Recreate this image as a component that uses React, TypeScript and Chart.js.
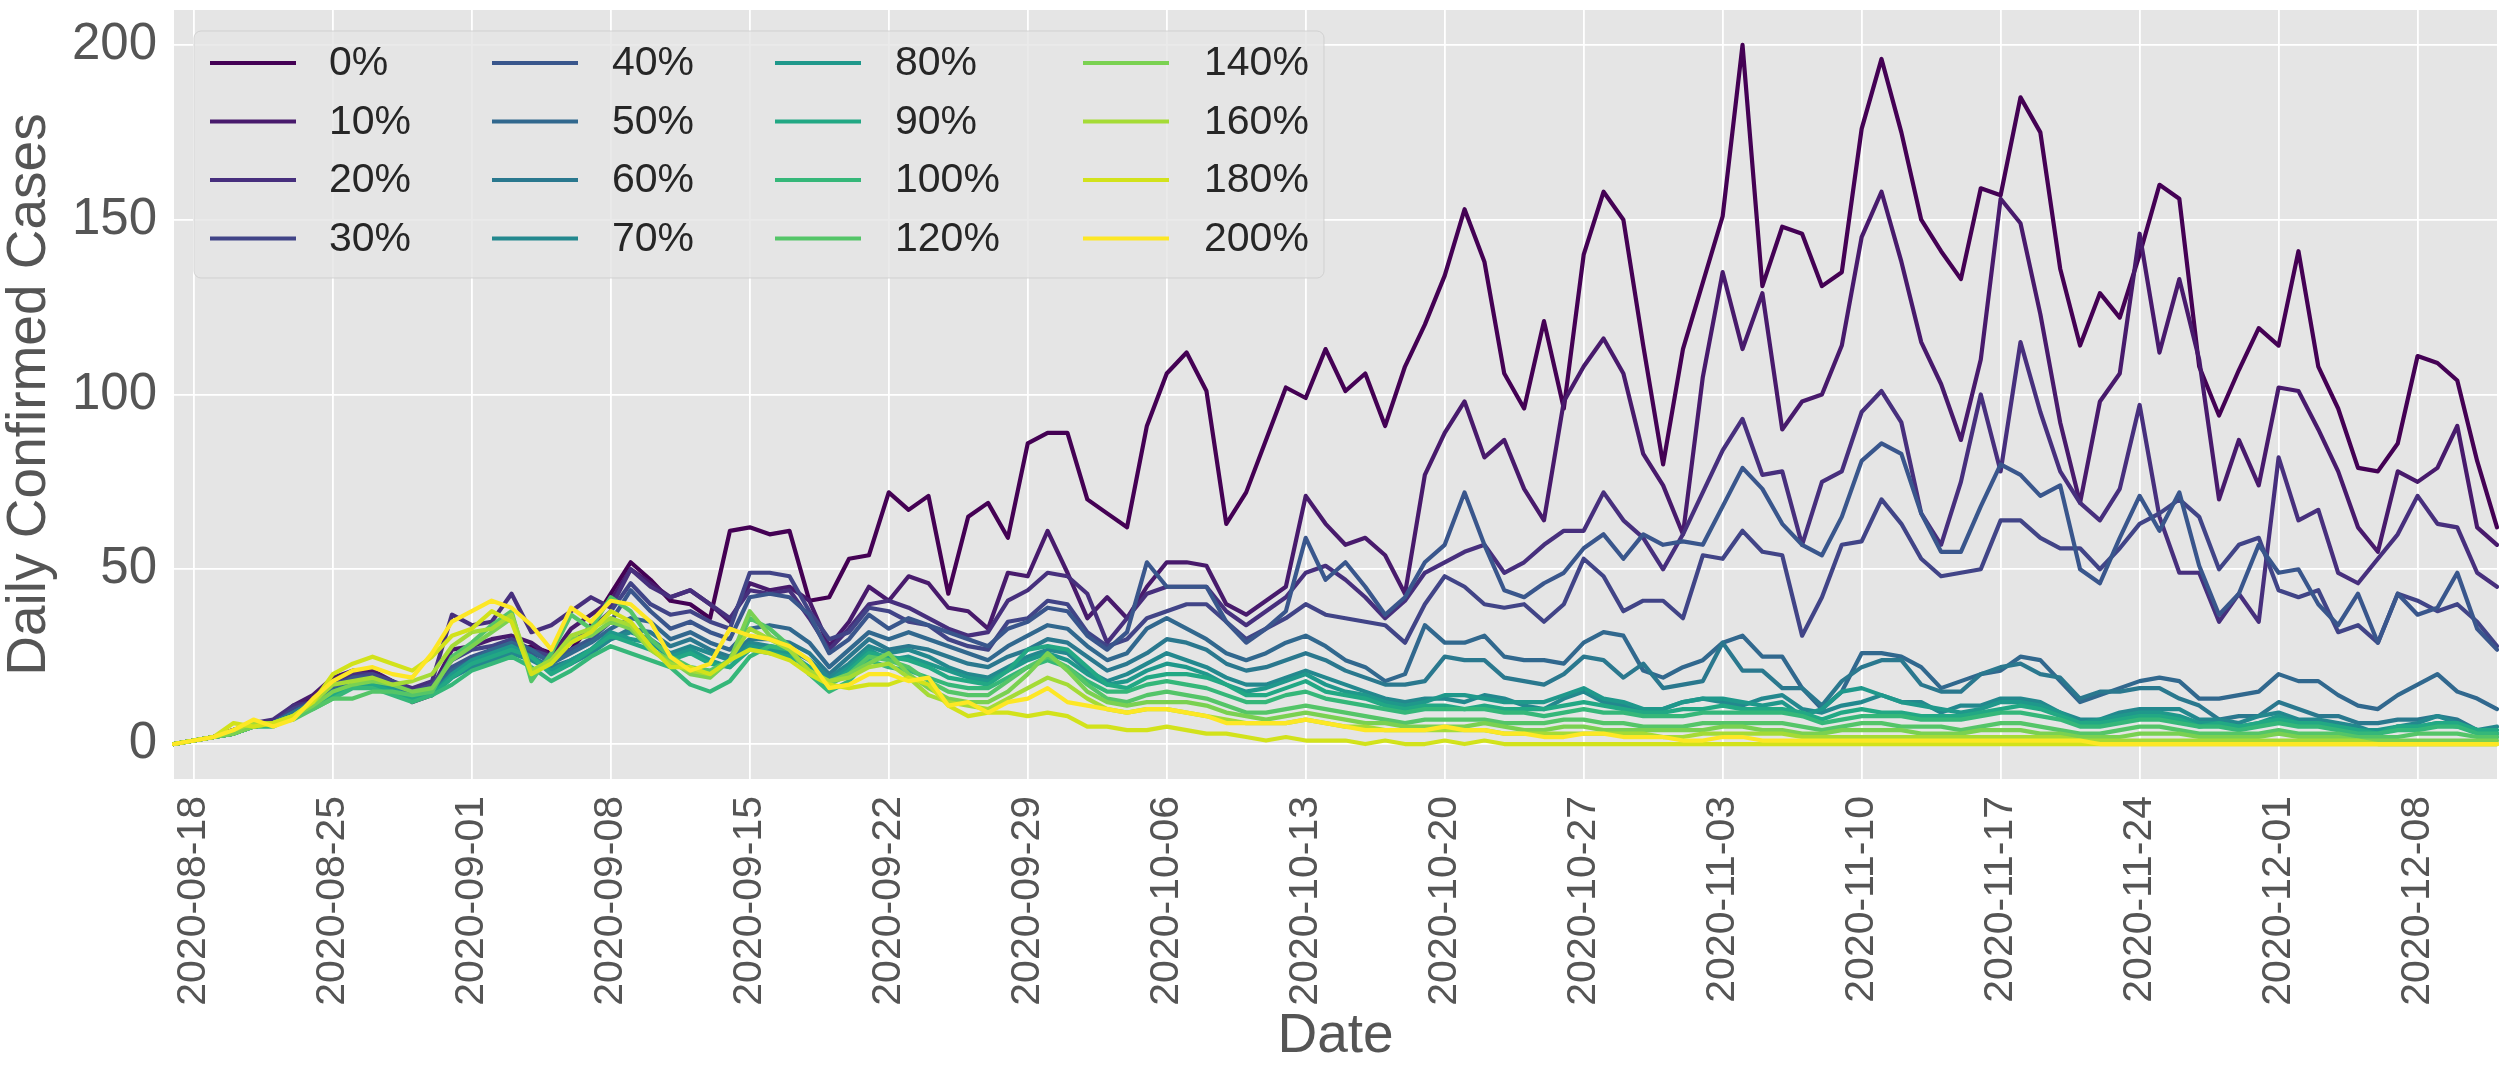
import React, { useEffect, useRef } from "react";
import { Chart, registerables } from "chart.js";

Chart.register(...registerables);

const FONT = "'Liberation Sans', Arial, sans-serif";

// categories: consecutive days 2020-08-17 .. 2020-12-12
const START_DAY = "2020-08-17";
const N_DAYS = 118;
const DATES: string[] = [];
for (let i = 0; i < N_DAYS; i++) {
  const d = new Date(Date.parse(START_DAY + "T00:00:00Z") + i * 86400000);
  DATES.push(d.toISOString().slice(0, 10));
}
const Y_TICKS = [0, 50, 100, 150, 200];

const NAMES = ["0%", "10%", "20%", "30%", "40%", "50%", "60%", "70%", "80%", "90%", "100%", "120%", "140%", "160%", "180%", "200%"];
const COLORS = ["#440154", "#481a6c", "#472f7d", "#414487", "#39568c", "#31688e", "#2a788e", "#23888e", "#1f988b", "#22a884", "#35b779", "#54c568", "#7ad151", "#a5db36", "#d2e21b", "#fde725"];

const S0 = [0,1,2,4,5,6,10,13,18,20,20,17,12,14,20, 24,24,26,28,26,27,34, 43,52,47,41,40,36,61,62,60,61,41,42,53,54, 72,67,71,43,65,69,59,86,89,89,70,66,62,91, 106,112,101,63,72,87,102,99,113,101,106,91,108,120, 134,153,138,106,96,121,96,140,158,150,114,80,113,132,151,200,131,148,146,131,135,176,196,175,150,141,133, 159,157,185,175,136,114,129,122,140,160,156,108,94,107,119,114,141,108,96,79,78,86,111,109,104,81,62];
const S10 = [0,1,2,4,6,6,11,14,19,21,21,18,14,16,27, 28,30,31,29,25,33,37, 41,50,46,42,44,40,35,46,44,45,41,28,35,45, 41,48,46,39,38,33,49,48,61,49,36,42,36,45, 52,52,51,40,37,41,45,71,63,57,59,54,43,77, 89,98,82,87,73,64,98,108,116,106,83,74,60,105,135,113,129,90,98,100,114,145,158,138,115,103,87, 110,156,149,123,92,69,98,106,146,112,133,110,70,87,74,102,101,90,78,62,55,78,75,79,91,62,57];
const S20 = [0,1,2,4,6,7,11,12,17,20,20,18,16,18,37, 34,35,43,32,34,38,42, 39,50,45,42,44,40,36,44,43,44,36,27,33,40, 41,39,36,33,31,32,41,44,49,48,43,29,36,43, 45,45,45,38,34,38,42,49,51,47,42,36,41,49, 52,55,57,49,52,57,61,61,72,64,59,50,60,72,84,93,77,78,57,75,78,95,101,92,66,57,75, 100,78,115,95,78,69,64,73,97,65,49,49,35,43,35,82,64,67,49,46,53,60,71,63,62,49,45];
const S30 = [0,1,2,4,5,6,10,12,17,19,20,18,15,17,24, 27,28,30,27,25,29,33, 38,46,40,37,38,35,33,49,49,48,38,30,32,39, 38,35,34,30,28,27,35,36,41,40,32,28,30,36, 38,40,40,35,30,33,36,40,37,36,35,34,29,40, 48,45,40,39,40,35,40,53,48,38,41,41,36,54,53,61,55,54,31,42,57,58,70,63,53,48,49, 50,64,64,59,56,56,50,56,63,66,70,65,50,57,59,44,42,44,32,34,29,43,41,38,40,35,28];
const S40 = [0,1,2,3,5,6,9,12,16,19,19,17,15,16,22, 25,27,28,26,24,27,30, 35,44,38,33,35,32,30,42,43,42,37,26,30,37, 33,36,34,32,30,28,33,35,39,38,31,27,32,52, 45,45,45,35,29,33,38,59,47,52,45,37,42,52, 57,72,57,44,42,46,49,56,60,53,60,57,58,57,68,79,73,63,57,54,65,81,86,83,66,55,55, 68,80,77,71,74,50,46,59,71,61,72,51,37,43,57,49,50,40,34,43,29,43,37,39,49,33,27];
const S50 = [0,1,2,3,5,6,9,12,16,18,18,16,14,15,21, 24,27,29,27,23,26,29, 33,36,35,30,32,29,27,33,34,33,29,22,27,32, 30,32,30,28,26,24,28,31,34,33,28,24,26,33, 36,33,30,26,24,26,29,31,28,24,22,18,20,34, 29,29,31,25,24,24,23,29,32,31,21,19,22,24,29,31,25,25,16,10,15,26,26,25,22,16,18, 20,21,25,24,18,12,14,16,18,19,18,13,13,14,15,20,18,18,14,11,10,14,17,20,15,13,10];
const S60 = [0,1,2,3,5,6,9,12,15,17,17,16,14,15,20, 23,25,27,25,22,24,27, 30,33,32,28,30,27,25,30,30,29,26,20,25,30, 27,28,27,25,23,22,25,27,30,29,25,21,23,26, 30,29,27,23,21,22,24,26,24,21,19,17,17,18, 25,24,24,19,18,17,20,25,24,19,23,16,17,18,29,21,21,16,16,11,18,22,24,24,17,15,15, 20,22,23,20,19,13,15,15,16,16,13,11,7,8,8,12,10,8,8,6,6,7,7,8,7,4,2];
const S70 = [0,1,2,3,5,6,8,11,15,17,17,15,13,14,19, 22,24,26,24,21,23,26, 30,32,30,26,28,26,24,29,28,27,24,19,23,28, 26,27,25,22,20,19,22,25,27,26,21,18,20,23, 26,24,22,19,17,17,19,21,19,17,15,13,12,13, 13,12,14,13,11,10,13,15,12,11,9,10,12,13,12,11,13,14,10,9,11,12,14,12,12,9,11, 11,13,13,12,9,7,7,9,10,10,10,7,7,6,8,9,7,7,6,5,3,5,6,8,6,4,5];
const S80 = [0,1,2,3,5,6,8,11,15,17,18,16,13,14,20, 24,26,28,25,21,24,27, 32,30,29,25,27,24,22,28,27,26,22,18,22,27, 24,25,23,21,19,18,21,24,26,24,20,17,18,21, 23,22,20,17,15,16,18,20,17,15,14,12,11,12, 14,14,13,12,12,12,14,16,13,12,10,10,12,13,13,12,11,12,8,10,15,16,14,12,11,10,9, 10,12,12,11,9,6,7,8,9,9,8,6,6,5,6,8,6,6,5,4,4,5,5,6,5,4,3];
const S90 = [0,1,2,3,5,6,8,11,14,17,17,15,13,14,19, 23,25,27,25,20,23,27, 31,29,27,24,26,23,22,27,26,25,22,17,21,26, 25,24,22,19,18,17,21,27,28,27,22,17,16,19, 20,20,19,17,14,14,16,18,15,14,13,11,10,11, 11,10,11,10,10,10,11,12,11,10,9,9,10,10,11,10,10,10,9,7,9,10,9,9,8,8,8, 9,10,11,10,8,6,6,7,8,8,7,5,6,5,6,7,6,6,5,4,3,5,5,6,6,4,4];
const S100 = [0,1,2,3,5,5,8,10,13,16,16,14,12,14,17, 21,23,25,22,18,21,25, 28,26,24,22,17,15,18,25,28,27,20,15,18,24, 22,21,19,17,16,16,19,22,24,22,18,15,15,17, 18,17,16,14,12,12,14,15,13,12,11,10,9,10, 10,10,10,9,9,8,9,10,9,9,8,8,8,9,9,9,9,9,8,6,7,8,8,8,7,7,7, 8,9,9,8,7,5,5,6,7,7,6,5,5,4,5,6,5,5,4,3,3,4,4,5,5,3,3];
const S120 = [0,1,2,3,5,6,7,10,13,13,15,15,14,15,25, 29,34,38,18,26,37,33, 42,38,30,25,22,21,24,36,33,28,20,17,20,25, 24,22,18,15,14,14,18,22,25,22,17,13,12,14, 15,14,13,11,9,9,10,11,10,9,8,7,6,7, 7,7,7,6,6,6,7,7,6,6,5,5,5,6,6,6,6,6,5,4,5,6,6,5,5,5,4, 5,6,6,5,4,3,3,4,5,5,4,3,3,3,3,4,3,3,3,2,2,2,3,3,3,2,2];
const S140 = [0,1,2,3,5,6,8,11,15,17,18,17,15,16,24, 28,32,36,20,24,30,31, 35,33,27,24,20,19,24,38,31,27,20,18,20,23, 26,20,16,13,12,12,15,20,26,21,15,12,11,12, 12,12,11,9,8,7,8,9,8,7,6,6,5,5, 5,5,6,5,4,4,5,5,4,4,4,4,4,4,5,5,4,4,3,3,4,4,4,4,3,3,3, 4,4,4,3,3,2,2,2,3,3,3,2,2,2,2,3,2,2,2,1,1,1,1,1,1,1,1];
const S160 = [0,1,2,4,6,6,8,12,17,18,19,17,18,20,28, 32,33,37,21,24,31,33, 36,34,27,23,21,20,24,33,30,27,21,18,19,22, 23,19,14,12,11,10,13,16,19,17,13,10,9,10, 10,9,8,7,6,6,6,7,6,5,5,4,4,4, 4,4,4,3,3,3,3,3,3,3,3,2,2,3,3,3,3,3,2,2,2,2,2,2,2,2,2, 2,2,2,2,2,1,1,1,1,1,1,1,1,1,1,1,1,1,1,1,0,0,0,0,0,0,0];
const S180 = [0,1,2,6,5,6,8,12,20,23,25,23,21,25,31, 33,38,35,20,23,29,32, 38,35,28,22,22,20,24,27,26,24,20,17,16,17, 17,19,17,11,8,9,9,8,9,8,5,5,4,4, 5,4,3,3,2,1,2,1,1,1,0,1,0,0, 1,0,1,0,0,0,0,0,0,0,0,0,0,0,0,0,0,0,0,0,0,0,0,0,0,0,0, 0,0,0,0,0,0,0,0,0,0,0,0,0,0,0,0,0,0,0,0,0,0,0,0,0,0,0];
const S200 = [0,1,2,4,7,5,7,13,18,21,22,20,19,26,35, 38,41,39,34,27,39,35, 41,40,35,25,21,23,33,31,30,28,24,16,17,20, 20,18,19,11,12,9,12,13,16,12,11,10,9,10, 10,9,8,6,6,6,6,7,6,5,4,4,4,4, 5,4,4,3,3,2,2,3,3,2,2,2,1,1,2,2,1,1,1,1,1,1,1,1,1,1,1, 1,1,1,1,1,1,0,0,0,0,0,0,0,0,0,0,0,0,0,0,0,0,0,0,0,0,0];

const SERIES = [S0, S10, S20, S30, S40, S50, S60, S70, S80, S90, S100, S120, S140, S160, S180, S200];

const isWeekly = (i: number) => i >= 1 && (i - 1) % 7 === 0;

const bgPlugin = {
  id: "bgPlugin",
  beforeDraw(chart: any) {
    const { ctx, chartArea: a, width, height } = chart;
    ctx.save();
    ctx.fillStyle = "#ffffff";
    ctx.fillRect(0, 0, width, height);
    ctx.fillStyle = "#E5E5E5";
    ctx.fillRect(a.left, a.top, a.right - a.left, a.bottom - a.top);
    ctx.restore();
  },
};

const legendPlugin = {
  id: "mplLegend",
  afterDatasetsDraw(chart: any) {
    const { ctx } = chart;
    const box = { x: 194, y: 31, w: 1130, h: 247, r: 7 };
    ctx.save();
    ctx.beginPath();
    ctx.moveTo(box.x + box.r, box.y);
    ctx.arcTo(box.x + box.w, box.y, box.x + box.w, box.y + box.h, box.r);
    ctx.arcTo(box.x + box.w, box.y + box.h, box.x, box.y + box.h, box.r);
    ctx.arcTo(box.x, box.y + box.h, box.x, box.y, box.r);
    ctx.arcTo(box.x, box.y, box.x + box.w, box.y, box.r);
    ctx.closePath();
    ctx.fillStyle = "rgba(229,229,229,0.8)";
    ctx.fill();
    ctx.lineWidth = 1;
    ctx.strokeStyle = "rgba(204,204,204,0.8)";
    ctx.stroke();
    const colLine = [210, 492, 775, 1083];
    const colText = [329, 612, 895, 1204];
    const rowY = [63, 121.5, 180, 238.5];
    ctx.font = `41px ${FONT}`;
    ctx.textBaseline = "middle";
    ctx.textAlign = "left";
    NAMES.forEach((name, k) => {
      const c = Math.floor(k / 4);
      const r = k % 4;
      ctx.strokeStyle = COLORS[k];
      ctx.lineWidth = 4.2;
      ctx.beginPath();
      ctx.moveTo(colLine[c], rowY[r]);
      ctx.lineTo(colLine[c] + 86, rowY[r]);
      ctx.stroke();
      ctx.fillStyle = "#262626";
      ctx.fillText(name, colText[c], rowY[r] + 1);
    });
    ctx.restore();
  },
};

export default function App() {
  const ref = useRef<HTMLCanvasElement | null>(null);
  useEffect(() => {
    document.body.style.margin = "0";
    const canvas = ref.current;
    if (!canvas) return;
    const chart = new Chart(canvas, {
      type: "line",
      data: {
        labels: DATES,
        datasets: SERIES.map((s, k) => ({
          label: NAMES[k],
          data: s,
          borderColor: COLORS[k],
          backgroundColor: COLORS[k],
          borderWidth: 4.2,
          pointRadius: 0,
          pointHoverRadius: 0,
          tension: 0,
          fill: false,
          borderJoinStyle: "round" as const,
          borderCapStyle: "round" as const,
          order: SERIES.length - 1 - k,
        })),
      },
      options: {
        responsive: false,
        animation: false,
        devicePixelRatio: 1,
        layout: { padding: { top: 10, right: 11, left: 0, bottom: 0 } },
        plugins: {
          legend: { display: false },
          tooltip: { enabled: false },
        },
        scales: {
          x: {
            type: "category",
            offset: false,
            border: { display: false },
            grid: {
              color: (c: any) => (isWeekly(c.index) ? "#ffffff" : "rgba(0,0,0,0)"),
              lineWidth: 1.8,
              drawTicks: false,
            },
            ticks: {
              autoSkip: false,
              maxRotation: 90,
              minRotation: 90,
              padding: 17,
              color: "#555555",
              font: { family: FONT, size: 41 },
              callback: (_v: any, i: number) => (isWeekly(i) ? DATES[i] : ""),
            },
            title: {
              display: true,
              text: "Date",
              color: "#555555",
              font: { family: FONT, size: 55, lineHeight: 1.1 },
              padding: { top: 0, bottom: 6 },
            },
            afterFit: (s: any) => {
              s.height = 294;
              s.paddingLeft = 0;
              s.paddingRight = 0;
            },
          },
          y: {
            min: -10,
            max: 210,
            border: { display: false },
            grid: { color: "#ffffff", lineWidth: 1.8, drawTicks: false },
            afterBuildTicks: (s: any) => {
              s.ticks = Y_TICKS.map((v) => ({ value: v }));
            },
            ticks: {
              color: "#555555",
              padding: 17,
              font: { family: FONT, size: 51 },
            },
            title: {
              display: true,
              text: "Daily Confirmed Cases",
              color: "#555555",
              font: { family: FONT, size: 55, lineHeight: 1.1 },
              padding: { top: 0, bottom: 0 },
            },
            afterFit: (s: any) => {
              s.width = 174;
              s.paddingTop = 0;
              s.paddingBottom = 0;
            },
          },
        },
      },
      plugins: [bgPlugin, legendPlugin],
    });
    return () => chart.destroy();
  }, []);
  return (
    <canvas
      ref={ref}
      width={2508}
      height={1073}
      style={{ display: "block", width: "2508px", height: "1073px" }}
    />
  );
}
